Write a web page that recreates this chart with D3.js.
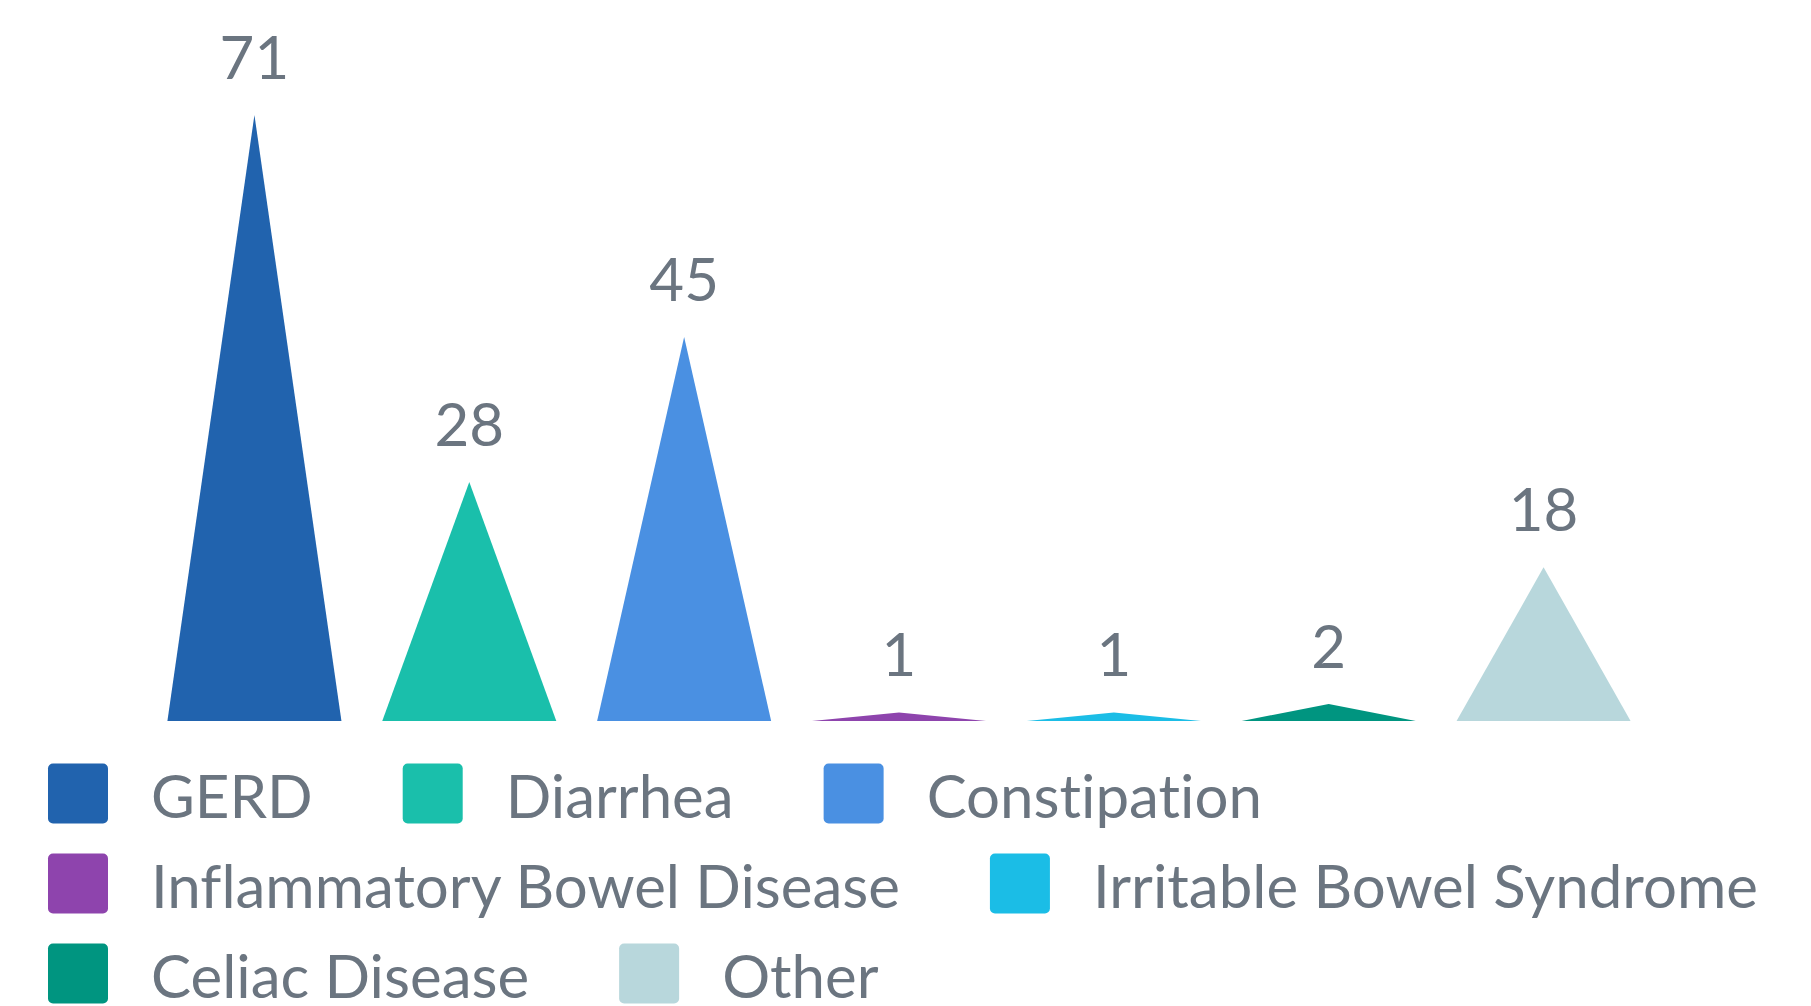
<!DOCTYPE html>
<html>
<head>
<meta charset="utf-8">
<script src="https://cdn.jsdelivr.net/npm/d3@7"></script>
<style>
  html, body { margin: 0; padding: 0; background: #ffffff; overflow: hidden; }
  svg { display: block; }
  text { font-family: Lato, "Open Sans", sans-serif; font-variant-ligatures: none; font-feature-settings: "liga" 0, "clig" 0; }
</style>
</head>
<body>
<script>
const categories = ["GERD", "Diarrhea", "Constipation", "Inflammatory Bowel Disease", "Irritable Bowel Syndrome", "Celiac Disease", "Other"];
const values = [71, 28, 45, 1, 1, 2, 18];
const colors = ["#2163ae", "#1abfab", "#4a90e2", "#8e44ad", "#1bbde6", "#009580", "#b8d7dc"];

const W = 1811, H = 1006;
const textColor = "#6b7580";

const svg = d3.select("body").append("svg")
  .attr("width", W).attr("height", H);

const x = d3.scaleBand()
  .domain(categories)
  .range([147, 1651])
  .paddingInner(0.19)
  .paddingOuter(0.095);

const y = d3.scaleLinear()
  .domain([0, d3.max(values)])
  .range([721, 115]);

const data = categories.map((c, i) => ({ cat: c, value: values[i], color: colors[i] }));

const tri = d => {
  const x0 = x(d.cat), x1 = x0 + x.bandwidth(), xm = x0 + x.bandwidth() / 2;
  return `M${x0},${y(0)}L${xm},${y(d.value)}L${x1},${y(0)}Z`;
};

svg.append("g").selectAll("path")
  .data(data).join("path")
  .attr("d", tri)
  .attr("fill", d => d.color);

svg.append("g").selectAll("text")
  .data(data).join("text")
  .attr("x", d => x(d.cat) + x.bandwidth() / 2)
  .attr("y", d => y(d.value) - 36)
  .attr("text-anchor", "middle")
  .attr("font-size", 60)
  .attr("fill", textColor)
  .text(d => d.value);

// Legend (flow layout with wrapping)
const legend = svg.append("g");
const sw = 60, textOffset = 103, itemGap = 90, rowPitch = 90;
const left = 48, maxRight = W - 20;
let cx = left, cy = 763.5;
data.forEach(d => {
  const g = legend.append("g");
  const t = g.append("text")
    .attr("x", textOffset).attr("y", 54.5)
    .attr("font-size", 60)
    .attr("fill", textColor)
    .text(d.cat);
  const tw = t.node().getComputedTextLength();
  const itemW = textOffset + tw;
  if (cx > left && cx + itemW > maxRight) { cx = left; cy += rowPitch; }
  g.append("rect")
    .attr("width", sw).attr("height", sw)
    .attr("rx", 5).attr("ry", 5)
    .attr("fill", d.color);
  g.attr("transform", `translate(${cx},${cy})`);
  cx += itemW + itemGap;
});
</script>
</body>
</html>
